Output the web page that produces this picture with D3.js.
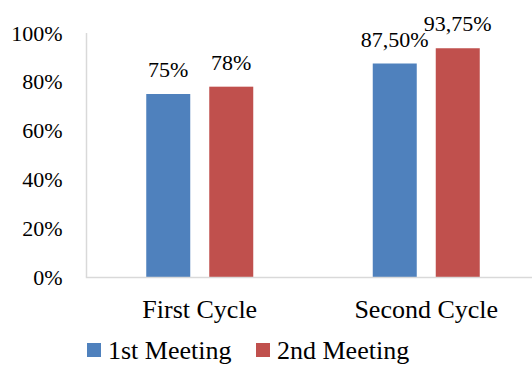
<!DOCTYPE html>
<html>
<head>
<meta charset="utf-8">
<script src="https://cdn.jsdelivr.net/npm/d3@7"></script>
<style>
  html, body { margin: 0; padding: 0; background: #fff; }
  svg { display: block; }
  text { font-family: "Liberation Serif", "Times New Roman", serif; fill: #000; }
</style>
</head>
<body>
<svg id="chart" width="532" height="365"></svg>
<script>
const categories = ["First Cycle", "Second Cycle"];
const seriesNames = ["1st Meeting", "2nd Meeting"];
const meeting1 = [75, 87.5];
const meeting2 = [78, 93.75];
const labels1 = ["75%", "87,50%"];
const labels2 = ["78%", "93,75%"];
const yTicks = [0, 20, 40, 60, 80, 100];
const colors = ["#4F81BD", "#C0504D"];

const FONT = "'Liberation Serif', 'Times New Roman', serif";
const svg = d3.select("#chart");
const plotLeft = 86.5, plotRight = 539.5, plotTop = 33, plotBottom = 277;

const x = d3.scaleBand().domain(categories).range([plotLeft, plotRight]).paddingInner(0).paddingOuter(0);
const y = d3.scaleLinear().domain([0, 100]).range([plotBottom, plotTop]);

const barW = 44, gap = 19;
const series = [
  { name: seriesNames[0], values: meeting1, labels: labels1, color: colors[0] },
  { name: seriesNames[1], values: meeting2, labels: labels2, color: colors[1] }
];
const x1 = d3.scaleBand().domain([0, 1]).range([-(barW + gap / 2), barW + gap / 2]).paddingInner(gap / (barW + gap)).paddingOuter(0);

// axis line
svg.append("line").attr("x1", plotLeft).attr("x2", plotLeft).attr("y1", plotTop).attr("y2", plotBottom)
  .attr("stroke", "#d9d9d9").attr("stroke-width", 1.5);

// y tick labels
const yAxis = d3.axisLeft(y).tickValues(yTicks).tickFormat(d => d + "%").tickSize(0).tickPadding(24);
const ya = svg.append("g").attr("transform", `translate(${plotLeft},0)`).call(yAxis)
  .attr("font-family", null).attr("font-size", null);
ya.select(".domain").remove();
ya.selectAll("text").style("font-size", "22px").style("font-family", FONT).attr("fill", "#000");

// bars
series.forEach((s, si) => {
  svg.append("g").selectAll("rect").data(categories).join("rect")
    .attr("x", c => x(c) + x.bandwidth() / 2 + x1(si))
    .attr("width", x1.bandwidth())
    .attr("y", (c, i) => y(s.values[i]))
    .attr("height", (c, i) => y(0) - y(s.values[i]))
    .attr("fill", s.color);
  svg.append("g").selectAll("text").data(categories).join("text")
    .attr("x", c => x(c) + x.bandwidth() / 2 + x1(si) + x1.bandwidth() / 2)
    .attr("y", (c, i) => y(s.values[i]) - 17)
    .attr("text-anchor", "middle")
    .style("font-size", "22px").style("font-family", FONT)
    .text((c, i) => s.labels[i]);
});

// baseline
svg.append("line").attr("x1", plotLeft - 0.75).attr("x2", 532).attr("y1", plotBottom + 0.5).attr("y2", plotBottom + 0.5)
  .attr("stroke", "#d9d9d9").attr("stroke-width", 1.5);

// x category labels
const xAxis = d3.axisBottom(x).tickSize(0).tickPadding(0);
const xa = svg.append("g").attr("transform", `translate(0,${plotBottom})`).call(xAxis)
  .attr("font-family", null).attr("font-size", null);
xa.select(".domain").remove();
xa.selectAll("text").style("font-size", "26px").style("font-family", FONT).attr("fill", "#000")
  .attr("dy", null).attr("y", 41);

// legend
const legendX = [87, 256];
series.forEach((s, i) => {
  const g = svg.append("g").attr("transform", `translate(${legendX[i]},343)`);
  g.append("rect").attr("width", 14).attr("height", 14).attr("fill", s.color);
  g.append("text").attr("x", 21).attr("y", 16).style("font-size", "26px").style("font-family", FONT).text(s.name);
});
</script>
</body>
</html>
